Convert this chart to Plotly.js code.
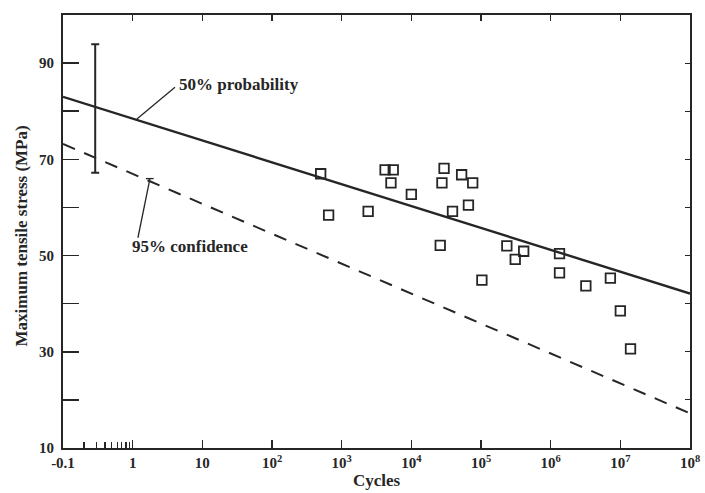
<!DOCTYPE html>
<html><head><meta charset="utf-8">
<script src="https://cdn.plot.ly/plotly-3.0.1.min.js"></script>
<style>html,body{margin:0;padding:0;background:#fff}#chart{width:705px;height:493px}</style>
</head><body><div id="chart"></div>
<script>
// Test points (cycles to failure, max tensile stress MPa)
const cycles = [500, 650, 2400, 4200, 5500, 5100, 10000, 29500, 27500, 52700, 76000, 66000, 39000, 26000, 235000, 410000, 310000, 103000, 1340000, 1340000, 3200000, 7200000, 10000000, 14000000];
const stress = [67.0, 58.4, 59.2, 67.8, 67.8, 65.1, 62.7, 68.1, 65.1, 66.8, 65.1, 60.5, 59.2, 52.1, 52.0, 50.9, 49.2, 44.9, 50.4, 46.4, 43.7, 45.3, 38.5, 30.6];
// Fitted lines
const lineX = [0.1, 1e8];
const probability50 = [83.0, 42.1];
const confidence95 = [73.2, 17.2];
// Scatter band bar
const bandX = [0.29];
const bandMid = [80.55];
const bandHalf = [13.35];
// Leader lines for labels
const lead50X = [1.15, 4.05], lead50Y = [78.4, 85.0];
const lead95X = [1.19, 1.77], lead95Y = [53.7, 66.0];
const cap95X = [1.55, 2.0], cap95Y = [66.0, 66.0];
// Ticks
const xTickVals = [0.1, 1, 10, 100, 1e3, 1e4, 1e5, 1e6, 1e7, 1e8];
const xTickText = ['-0.1', '1', '10', '10<sup>2</sup>', '10<sup>3</sup>', '10<sup>4</sup>', '10<sup>5</sup>', '10<sup>6</sup>', '10<sup>7</sup>', '10<sup>8</sup>'];
const xMinorVals = [0.2, 0.3, 0.4, 0.5, 0.6, 0.7, 0.8, 0.9];
const yTickVals = [10, 20, 30, 40, 50, 60, 70, 80, 90];
const yTickText = ['10', '', '30', '', '50', '', '70', '', '90'];

const ink = '#262626';
const serif = 'Liberation Serif, Times New Roman, serif';
const tickFont = {family: serif, size: 15, weight: 'bold', color: ink};
const labelFont = {family: serif, size: 17, weight: 'bold', color: ink};

const traces = [
  {x: lineX, y: probability50, mode: 'lines', line: {color: ink, width: 2.4}, hoverinfo: 'skip', showlegend: false},
  {x: lineX, y: confidence95, mode: 'lines', line: {color: ink, width: 2, dash: '13px,10px'}, hoverinfo: 'skip', showlegend: false},
  {x: cycles, y: stress, mode: 'markers', marker: {symbol: 'square-open', size: 9.5, color: ink, line: {width: 1.8, color: ink}}, showlegend: false},
  {x: bandX, y: bandMid, mode: 'markers', marker: {size: 1, opacity: 0}, error_y: {type: 'data', array: bandHalf, visible: true, color: ink, thickness: 2, width: 4}, showlegend: false, hoverinfo: 'skip'},
  {x: lead50X, y: lead50Y, mode: 'lines', line: {color: ink, width: 1.3}, hoverinfo: 'skip', showlegend: false},
  {x: lead95X, y: lead95Y, mode: 'lines', line: {color: ink, width: 1.3}, hoverinfo: 'skip', showlegend: false},
  {x: cap95X, y: cap95Y, mode: 'lines', line: {color: ink, width: 1.3}, hoverinfo: 'skip', showlegend: false},
  {x: [1], y: [50], xaxis: 'x2', yaxis: 'y2', mode: 'markers', marker: {opacity: 0}, hoverinfo: 'skip', showlegend: false}
];

const layout = {
  width: 705, height: 493,
  margin: {l: 63, r: 15, t: 15, b: 45},
  paper_bgcolor: '#fff', plot_bgcolor: '#fff',
  font: {family: serif, color: ink, size: 15},
  xaxis: {
    type: 'log', range: [-1, 8], tickmode: 'array', tickvals: xTickVals, ticktext: xTickText,
    ticks: 'inside', ticklen: 8, tickwidth: 1.5, tickcolor: ink,
    minor: {tickmode: 'array', tickvals: xMinorVals, ticks: 'inside', ticklen: 6, tickwidth: 1.2, tickcolor: ink, showgrid: false},
    showline: true, linecolor: ink, linewidth: 2, showgrid: false, zeroline: false,
    tickfont: tickFont
  },
  xaxis2: {
    type: 'log', range: [-1, 8], overlaying: 'x', side: 'top', anchor: 'y2',
    tickmode: 'array', tickvals: xTickVals.slice(1, 9), showticklabels: false,
    ticks: 'inside', ticklen: 6, tickwidth: 1.5, tickcolor: ink,
    showline: true, linecolor: ink, linewidth: 2, showgrid: false, zeroline: false
  },
  yaxis: {
    range: [10, 100], tickmode: 'array', tickvals: yTickVals, ticktext: yTickText,
    ticks: 'inside', ticklen: 16, tickwidth: 1.5, tickcolor: ink, ticklabelstandoff: 4,
    showline: true, linecolor: ink, linewidth: 2, showgrid: false, zeroline: false,
    tickfont: tickFont
  },
  yaxis2: {
    range: [10, 100], overlaying: 'y', side: 'right', anchor: 'x2',
    tickmode: 'array', tickvals: yTickVals.slice(1), showticklabels: false,
    ticks: 'inside', ticklen: 5, tickwidth: 1.2, tickcolor: ink,
    showline: true, linecolor: ink, linewidth: 2, showgrid: false, zeroline: false
  },
  annotations: [
    {x: Math.log10(4.3), y: 85.6, xref: 'x', yref: 'y', text: '50% probability', showarrow: false, xanchor: 'left', yanchor: 'middle', font: labelFont},
    {x: Math.log10(0.92), y: 51.9, xref: 'x', yref: 'y', text: '95% confidence', showarrow: false, xanchor: 'left', yanchor: 'middle', font: labelFont},
    {x: -0.066, y: 0.49, xref: 'paper', yref: 'paper', text: 'Maximum tensile stress (MPa)', textangle: -90, showarrow: false,
     xanchor: 'center', yanchor: 'middle', font: labelFont},
    {x: 0.5, y: -0.076, xref: 'paper', yref: 'paper', text: 'Cycles', showarrow: false, xanchor: 'center', yanchor: 'middle', font: labelFont}
  ]
};

Plotly.newPlot('chart', traces, layout, {staticPlot: true, displayModeBar: false});
</script>
</body></html>
